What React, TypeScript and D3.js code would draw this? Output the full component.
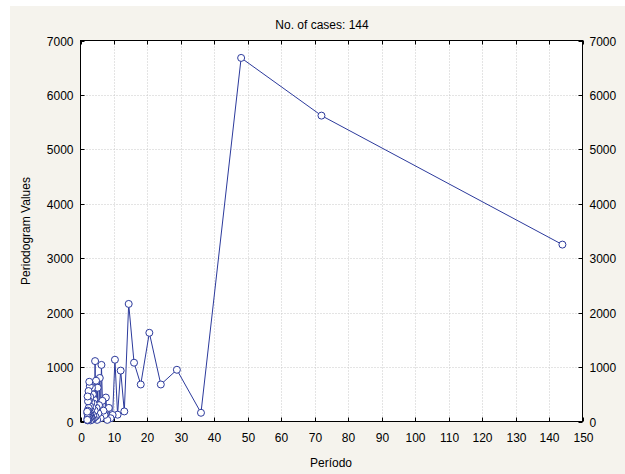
import React from "react";
import * as d3 from "d3";

const periods = [
  144, 72, 48, 36, 28.8, 24, 20.57, 18, 16, 14.4, 13.09, 12, 11.08, 10.29,
  9.6, 9.0, 8.47, 8.0, 7.58, 7.2, 6.86, 6.55, 6.26, 6.0, 5.76, 5.54, 5.33, 5.14,
  4.97, 4.8, 4.65, 4.5, 4.36, 4.24, 4.11, 4.0, 3.89, 3.79, 3.69, 3.6, 3.51, 3.43,
  3.35, 3.27, 3.2, 3.13, 3.06, 3.0, 2.94, 2.88, 2.82, 2.77, 2.72, 2.67, 2.62, 2.57,
  2.53, 2.48, 2.44, 2.4, 2.36, 2.32, 2.29, 2.25, 2.22, 2.18, 2.15, 2.12, 2.09, 2.06,
  2.03, 2.0,
];

const values = [
  3250, 5620, 6680, 160, 950, 680, 1630, 680, 1080, 2160, 185, 935, 125, 1135,
  120, 60, 250, 30, 440, 120, 200, 380, 1040, 60, 800, 300, 150, 620,
  30, 250, 750, 90, 1110, 200, 400, 60, 330, 110, 500, 40, 260, 620,
  150, 30, 350, 80, 200, 20, 450, 120, 280, 650, 60, 180, 730, 100,
  380, 30, 250, 560, 90, 170, 40, 370, 120, 200, 20, 460, 60, 150,
  30, 180,
];

const xTicks = [0, 10, 20, 30, 40, 50, 60, 70, 80, 90, 100, 110, 120, 130, 140, 150];
const yTicks = [0, 1000, 2000, 3000, 4000, 5000, 6000, 7000];

const title = "No. of cases: 144";
const xLabel = "Período";
const yLabel = "Periodogram Values";

export default function App() {
  const W = 625;
  const H = 474;
  const left = 80.5;
  const right = 582.5;
  const top = 40.5;
  const bottom = 421.5;
  const x = d3.scaleLinear().domain([0, 150]).range([left, right]);
  const y = d3.scaleLinear().domain([0, 7000]).range([bottom, top]);
  const data = periods.map((p, i) => ({ p, v: values[i] }));
  const line = d3
    .line<{ p: number; v: number }>()
    .x((d) => x(d.p))
    .y((d) => y(d.v));
  const font = "'Liberation Sans', Arial, sans-serif";
  const blue = "#2c3a9c";
  const tl = 4;
  return (
    <svg
      width={W}
      height={H}
      style={{ position: "absolute", left: 0, top: 0 }}
      fontFamily={font}
    >
      <rect x={0} y={0} width={W} height={H} fill="#ffffff" />
      <rect x={10} y={6} width={W - 10} height={H - 6} fill="#f5f3ed" />
      <rect x={left} y={top} width={right - left} height={bottom - top} fill="#ffffff" />
      {xTicks.slice(1, -1).map((t) => (
        <line
          key={"gx" + t}
          x1={Math.round(x(t)) + 0.5}
          x2={Math.round(x(t)) + 0.5}
          y1={top}
          y2={bottom}
          stroke="#c8c8c8"
          strokeDasharray="1,2"
        />
      ))}
      {yTicks.slice(1, -1).map((t) => (
        <line
          key={"gy" + t}
          x1={left}
          x2={right}
          y1={Math.round(y(t)) + 0.5}
          y2={Math.round(y(t)) + 0.5}
          stroke="#c8c8c8"
          strokeDasharray="1,2"
        />
      ))}
      {xTicks.map((t) => {
        const xx = Math.round(x(t)) + 0.5;
        return (
          <g key={"tx" + t}>
            <line x1={xx} x2={xx} y1={bottom} y2={bottom - tl} stroke="#000" />
            <line x1={xx} x2={xx} y1={top} y2={top + tl} stroke="#000" />
            <text x={xx} y={bottom + 20} textAnchor="middle" fontSize={12} fill="#000">
              {t}
            </text>
          </g>
        );
      })}
      {yTicks.map((t) => {
        const yy = Math.round(y(t)) + 0.5;
        return (
          <g key={"ty" + t}>
            <line x1={left} x2={left + tl} y1={yy} y2={yy} stroke="#000" />
            <line x1={right} x2={right - tl} y1={yy} y2={yy} stroke="#000" />
            <text x={left - 7} y={yy + 4} textAnchor="end" fontSize={12} fill="#000">
              {t}
            </text>
            <text x={right + 7} y={yy + 4} textAnchor="start" fontSize={12} fill="#000">
              {t}
            </text>
          </g>
        );
      })}
      <rect
        x={left}
        y={top}
        width={right - left}
        height={bottom - top}
        fill="none"
        stroke="#000"
      />
      <path d={line(data) || ""} fill="none" stroke={blue} strokeWidth={1} />
      {data.map((d, i) => (
        <circle
          key={"c" + i}
          cx={x(d.p)}
          cy={y(d.v)}
          r={3.5}
          fill="#ffffff"
          stroke={blue}
          strokeWidth={1}
        />
      ))}
      <text x={322} y={29} textAnchor="middle" fontSize={12} fill="#000">
        {title}
      </text>
      <text x={331} y={467} textAnchor="middle" fontSize={12} fill="#000">
        {xLabel}
      </text>
      <text
        transform={`translate(30,${(top + bottom) / 2}) rotate(-90)`}
        textAnchor="middle"
        fontSize={12}
        fill="#000"
      >
        {yLabel}
      </text>
    </svg>
  );
}
